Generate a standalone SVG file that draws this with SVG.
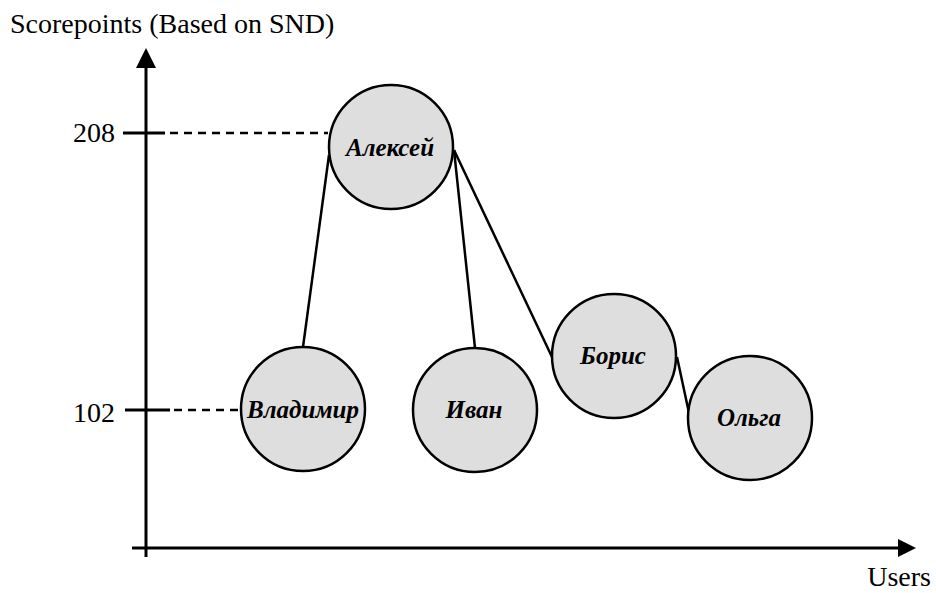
<svg xmlns="http://www.w3.org/2000/svg" width="936" height="593" viewBox="0 0 936 593">
<defs>
<style>
.ax{stroke:#000;stroke-width:3;fill:none}
.dash{stroke:#000;stroke-width:2.5;stroke-dasharray:8,6;fill:none}
.edge{stroke:#000;stroke-width:2.5;fill:none}
.node circle{fill:#dedede;stroke:#000;stroke-width:2.5}
.node text{font-family:"Liberation Serif","Times New Roman",serif;font-weight:bold;font-style:italic;font-size:25px;text-anchor:middle;fill:#000}
.lbl{font-family:"Liberation Serif","Times New Roman",serif;font-size:28px;fill:#000}
</style>
</defs>
<rect width="936" height="593" fill="#fff"/>
<g id="axes">
<line class="ax" x1="146" y1="557" x2="146" y2="62"/>
<polygon points="146,48 136,68 156,68" fill="#000"/>
<line class="ax" x1="132" y1="548" x2="902" y2="548"/>
<polygon points="916,548 898,539 898,557" fill="#000"/>
<line class="ax" x1="123" y1="133" x2="165" y2="133"/>
<line class="ax" x1="125" y1="410" x2="170" y2="410"/>
<line class="dash" x1="170" y1="133" x2="328" y2="133"/>
<line class="dash" x1="174" y1="410" x2="240" y2="410"/>
<text class="lbl" x="10" y="33">Scorepoints (Based on SND)</text>
<text class="lbl" x="115" y="142" text-anchor="end">208</text>
<text class="lbl" x="115" y="422" text-anchor="end">102</text>
<text class="lbl" x="931" y="586" text-anchor="end">Users</text>
</g>
<g id="connectors">
<line class="edge" x1="329" y1="155" x2="303" y2="347"/>
<line class="edge" x1="454" y1="150" x2="475" y2="348"/>
<line class="edge" x1="454" y1="150" x2="552" y2="357"/>
<line class="edge" x1="677" y1="357" x2="689" y2="413"/>
</g>
<g id="node-aleksey" class="node"><circle cx="391" cy="147" r="62"/><text x="390" y="156">Алексей</text></g>
<g id="node-vladimir" class="node"><circle cx="303" cy="409" r="62"/><text x="303" y="418">Владимир</text></g>
<g id="node-ivan" class="node"><circle cx="475" cy="410" r="62"/><text x="474" y="418">Иван</text></g>
<g id="node-boris" class="node"><circle cx="614" cy="356" r="62"/><text x="613" y="364">Борис</text></g>
<g id="node-olga" class="node"><circle cx="750" cy="418" r="62"/><text x="749" y="426">Ольга</text></g>
</svg>
